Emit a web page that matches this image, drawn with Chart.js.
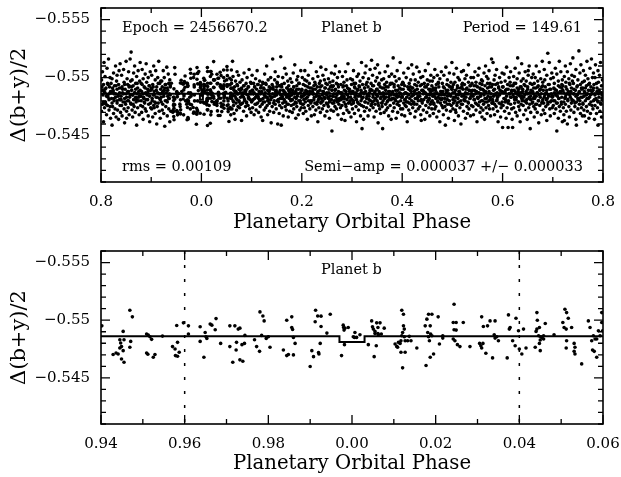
<!DOCTYPE html>
<html>
<head>
<meta charset="utf-8">
<script src="https://cdn.jsdelivr.net/npm/chart.js"></script>
<style>
  body { margin: 0; background: #fff; }
  canvas { position: absolute; left: 0; }
  #topChart { top: 0; }
  #zoomChart { top: 240px; }
</style>
</head>
<body>
<canvas id="topChart" width="621" height="240"></canvas>
<canvas id="zoomChart" width="621" height="237"></canvas>
<script>
// fitted constant level (solid line) and the level inside the transit window
const meanLevel = -0.5486;
const transitLevel = -0.5481;
const transitPhase = [-0.003, 0.003];
// dotted lines of the zoom panel
const windowPhase = [0.96, 1.04];

// full light curve outside the zoomed window: phase x 1000
const topPhase = [
60,60,61,62,62,63,63,64,65,65,66,67,67,68,69,69,70,71,71,72,73,73,74,75,75,76,77,78,78,79,
80,80,81,81,82,83,84,84,84,85,86,87,88,88,89,90,90,90,91,92,93,94,94,95,96,97,97,98,99,99,
100,101,101,102,103,103,104,105,105,106,107,108,108,109,110,111,111,112,113,113,114,115,116,116,117,118,118,119,119,106,
120,121,122,122,123,124,125,125,126,126,127,128,129,129,130,131,132,132,132,133,134,135,135,136,137,137,138,138,139,123,
140,141,141,142,142,143,144,145,146,146,147,147,148,149,150,150,151,152,153,153,154,155,155,156,156,157,158,159,159,151,
160,160,161,162,162,163,163,164,165,165,166,167,167,168,169,169,170,171,171,172,173,173,174,175,175,176,177,178,178,179,
180,180,181,181,182,183,184,184,184,185,186,187,188,188,189,190,190,190,191,192,193,194,194,195,196,197,197,198,199,199,
200,201,201,202,203,203,204,205,205,206,207,208,208,209,210,211,211,212,213,213,214,215,216,216,217,218,218,219,219,206,
220,221,222,222,223,224,225,225,226,226,227,228,229,229,230,231,232,232,232,233,234,235,235,236,237,237,238,238,239,223,
240,241,241,242,242,243,244,245,246,246,247,247,248,249,250,250,251,252,253,253,254,255,255,256,256,257,258,259,259,251,
260,260,261,262,262,263,263,264,265,265,266,267,267,268,269,269,270,271,271,272,273,273,274,275,275,276,277,278,278,279,
280,280,281,281,282,283,284,284,284,285,286,287,288,288,289,290,290,290,291,292,293,294,294,295,296,297,297,298,299,299,
300,301,301,302,303,303,304,305,305,306,307,308,308,309,310,311,311,312,313,313,314,315,316,316,317,318,318,319,319,306,
320,321,322,322,323,324,325,325,326,326,327,328,329,329,330,331,332,332,332,333,334,335,335,336,337,337,338,338,339,323,
340,341,341,342,342,343,344,345,346,346,347,347,348,349,350,350,351,352,353,353,354,355,355,356,356,357,358,359,359,351,
360,360,361,362,362,363,363,364,365,365,366,367,367,368,369,369,370,371,371,372,373,373,374,375,375,376,377,378,378,379,
380,380,381,381,382,383,384,384,384,385,386,387,388,388,389,390,390,390,391,392,393,394,394,395,396,397,397,398,399,399,
400,401,401,402,403,403,404,405,405,406,407,408,408,409,410,411,411,412,413,413,414,415,416,416,417,418,418,419,419,406,
420,421,422,422,423,424,425,425,426,426,427,428,429,429,430,431,432,432,432,433,434,435,435,436,437,437,438,438,439,423,
440,441,441,442,442,443,444,445,446,446,447,447,448,449,450,450,451,452,453,453,454,455,455,456,456,457,458,459,459,451,
460,460,461,462,462,463,463,464,465,465,466,467,467,468,469,469,470,471,471,472,473,473,474,475,475,476,477,478,478,479,
480,480,481,481,482,483,484,484,484,485,486,487,488,488,489,490,490,490,491,492,493,494,494,495,496,497,497,498,499,499,
500,501,501,502,503,503,504,505,505,506,507,508,508,509,510,511,511,512,513,513,514,515,516,516,517,518,518,519,519,506,
520,521,522,522,523,524,525,525,526,526,527,528,529,529,530,531,532,532,532,533,534,535,535,536,537,537,538,538,539,523,
540,541,541,542,542,543,544,545,546,546,547,547,548,549,550,550,551,552,553,553,554,555,555,556,556,557,558,559,559,551,
560,560,561,562,562,563,563,564,565,565,566,567,567,568,569,569,570,571,571,572,573,573,574,575,575,576,577,578,578,579,
580,580,581,581,582,583,584,584,584,585,586,587,588,588,589,590,590,590,591,592,593,594,594,595,596,597,597,598,599,599,
600,601,601,602,603,603,604,605,605,606,607,608,608,609,610,611,611,612,613,613,614,615,616,616,617,618,618,619,619,606,
620,621,622,622,623,624,625,625,626,626,627,628,629,629,630,631,632,632,632,633,634,635,635,636,637,637,638,638,639,623,
640,641,641,642,642,643,644,645,646,646,647,647,648,649,650,650,651,652,653,653,654,655,655,656,656,657,658,659,659,651,
660,660,661,662,662,663,663,664,665,665,666,667,667,668,669,669,670,671,671,672,673,673,674,675,675,676,677,678,678,679,
680,680,681,681,682,683,684,684,684,685,686,687,688,688,689,690,690,690,691,692,693,694,694,695,696,697,697,698,699,699,
700,701,701,702,703,703,704,705,705,706,707,708,708,709,710,711,711,712,713,713,714,715,716,716,717,718,718,719,719,706,
720,721,722,722,723,724,725,725,726,726,727,728,729,729,730,731,732,732,732,733,734,735,735,736,737,737,738,738,739,723,
740,741,741,742,742,743,744,745,746,746,747,747,748,749,750,750,751,752,753,753,754,755,755,756,756,757,758,759,759,751,
760,760,761,762,762,763,763,764,765,765,766,767,767,768,769,769,770,771,771,772,773,773,774,775,775,776,777,778,778,779,
780,780,781,781,782,783,784,784,784,785,786,787,788,788,789,790,790,790,791,792,793,794,794,795,796,797,797,798,799,799,
800,801,801,802,803,803,804,805,805,806,807,808,808,809,810,811,811,812,813,813,814,815,816,816,817,818,818,819,819,806,
820,821,822,822,823,824,825,825,826,826,827,828,829,829,830,831,832,832,832,833,834,835,835,836,837,837,838,838,839,823,
840,841,841,842,842,843,844,845,846,846,847,847,848,849,850,850,851,852,853,853,854,855,855,856,856,857,858,859,859,851,
860,860,861,862,862,863,863,864,865,865,866,867,867,868,869,869,870,871,871,872,873,873,874,875,875,876,877,878,878,879,
880,880,881,881,882,883,884,884,884,885,886,887,888,888,889,890,890,890,891,892,893,894,894,895,896,897,897,898,899,899,
900,901,901,902,903,903,904,905,905,906,907,908,908,909,910,911,911,912,913,913,914,915,916,916,917,918,918,919,919,906,
920,921,922,922,923,924,925,925,926,926,927,928,929,929,930,931,932,932,932,933,934,935,935,936,937,937,938,938,939,923,
// dense core close to the fitted level
61,63,64,67,69,71,72,75,77,78, 80,82,85,86,88,90,93,94,96,99,
101,102,104,106,109,110,112,114,117,119, 120,123,125,127,128,131,133,135,136,138,
141,143,144,147,149,151,152,155,157,158, 160,162,165,166,168,170,173,174,176,179,
181,182,184,186,189,190,192,194,197,199, 200,203,205,207,208,211,213,215,216,218,
221,223,224,227,229,231,232,235,237,238, 240,242,245,246,248,250,253,254,256,259,
261,262,264,266,269,270,272,274,277,279, 280,283,285,287,288,291,293,295,296,298,
301,303,304,307,309,311,312,315,317,318, 320,322,325,326,328,330,333,334,336,339,
341,342,344,346,349,350,352,354,357,359, 360,363,365,367,368,371,373,375,376,378,
381,383,384,387,389,391,392,395,397,398, 400,402,405,406,408,410,413,414,416,419,
421,422,424,426,429,430,432,434,437,439, 440,443,445,447,448,451,453,455,456,458,
461,463,464,467,469,471,472,475,477,478, 480,482,485,486,488,490,493,494,496,499,
501,502,504,506,509,510,512,514,517,519, 520,523,525,527,528,531,533,535,536,538,
541,543,544,547,549,551,552,555,557,558, 560,562,565,566,568,570,573,574,576,579,
581,582,584,586,589,590,592,594,597,599, 600,603,605,607,608,611,613,615,616,618,
621,623,624,627,629,631,632,635,637,638, 640,642,645,646,648,650,653,654,656,659,
661,662,664,666,669,670,672,674,677,679, 680,683,685,687,688,691,693,695,696,698,
701,703,704,707,709,711,712,715,717,718, 720,722,725,726,728,730,733,734,736,739,
741,742,744,746,749,750,752,754,757,759, 760,763,765,767,768,771,773,775,776,778,
781,783,784,787,789,791,792,795,797,798, 800,802,805,806,808,810,813,814,816,819,
821,822,824,826,829,830,832,834,837,839, 840,843,845,847,848,851,853,855,856,858,
861,863,864,867,869,871,872,875,877,878, 880,882,885,886,888,890,893,894,896,899,
901,902,904,906,909,910,912,914,917,919, 920,923,925,927,928,931,933,935,936,938
];
// residual from meanLevel, in units of 0.0001
const topResid = [
4,-9,13,-28,1,6,-15,10,-3,17,-6,2,22,-11,8,-2,14,-19,5,-7,11,0,-16,7,-4,12,-10,3,-1,9,
-5,23,2,-12,8,-1,15,-7,3,-18,6,-3,11,0,-9,19,-4,7,-14,1,10,-6,4,-21,13,-2,5,-10,16,0,
7,-3,-16,12,0,5,-9,18,-1,-6,9,3,-13,14,-4,1,-20,8,-8,2,16,-2,6,-11,11,-5,0,20,-7,4,
-2,9,23,-10,4,-5,14,1,-17,7,-1,12,-8,3,-24,10,-3,6,18,-12,0,-6,8,15,-4,2,-14,5,25,-9,
3,-8,11,-30,0,-4,16,6,-12,2,-19,9,-2,13,-6,1,-10,26,5,-15,7,-1,17,-7,10,-3,-32,27,4,-9,
-6,12,2,-14,8,-3,19,0,-9,5,-22,11,-1,7,-17,14,3,-5,9,-11,1,20,-7,4,-2,15,-13,6,-4,10,
1,-10,16,5,-3,-18,9,-6,13,0,-25,7,-2,21,4,-12,11,-7,2,-15,18,-4,6,-9,14,-1,8,-20,3,12,
-4,9,-14,2,17,-8,5,-1,12,-20,7,-3,15,0,-11,22,3,-6,10,-16,1,-9,13,-2,6,-27,8,-5,19,-12,
6,-2,-13,11,0,-7,18,3,-10,8,-4,14,-19,1,9,-6,24,-1,-15,5,12,-9,2,-3,16,-11,7,-23,4,0,
-7,13,1,-16,6,-2,10,-12,4,19,-5,0,-21,8,-1,15,-8,3,-13,11,-4,7,21,-10,2,-6,14,-18,5,9,
32,-3,8,-11,2,15,-7,0,-17,6,11,-4,-24,3,13,-9,1,-14,7,18,-2,-6,9,-19,4,-1,12,-8,5,22,
-1,10,-15,4,-6,17,2,-10,7,-3,23,-19,0,11,-7,5,14,-12,1,-26,8,-4,16,-2,6,-13,3,20,-8,9,
5,-12,13,-2,8,-20,0,17,-6,3,-9,11,-1,24,-15,7,-4,2,-17,14,-7,9,1,-11,19,-3,6,-27,10,-5,
30,-8,3,-14,11,0,-5,15,-18,7,-2,-24,12,4,-10,1,19,-6,8,-13,2,-1,14,-21,6,-4,10,-9,-29,22,
-3,7,-16,12,1,-7,20,-1,9,-22,4,-11,15,-4,6,-14,2,25,-8,10,-2,-18,13,0,-6,17,3,-12,8,-25,
11,-5,30,-1,6,-13,2,16,-8,4,-19,9,-3,14,-10,0,7,-24,12,-6,3,19,-15,5,-2,10,-9,1,22,-17,
-9,4,15,-2,-31,8,-6,1,12,-15,5,-3,21,-11,0,9,-20,3,16,-7,2,-13,10,-1,-27,6,13,-4,18,-8,
2,-10,13,-4,8,-18,0,19,-7,5,-1,11,-14,3,24,-6,7,-22,1,14,-9,4,-3,17,-12,9,-2,-25,6,10,
-5,12,1,-17,7,-2,20,-8,4,-12,15,0,-23,9,-4,3,13,-10,6,-1,-19,11,2,-7,18,-14,5,23,-3,8,
8,-3,-15,14,0,5,-9,22,-1,-20,10,3,-6,16,-12,1,7,-26,12,-4,4,-11,19,-2,9,-16,0,-7,13,6,
-11,6,2,17,-5,-14,9,0,-21,13,-3,4,11,-8,20,-1,-16,7,3,-10,15,-6,1,24,-13,8,-2,-19,5,10,
4,-9,12,-2,18,-16,7,-5,1,11,27,-23,-1,14,-8,5,-12,9,-3,21,0,-18,6,-6,15,2,-10,10,-27,-4,
-6,13,-1,8,-17,3,23,-10,6,-3,16,-22,1,10,-7,-14,4,19,-2,7,-12,12,-5,0,26,-19,9,-8,2,14,
9,-4,-20,15,1,-8,6,-13,21,-1,3,-16,11,-5,17,0,-10,8,-25,13,-3,4,-7,19,-14,2,10,-2,-9,5,
-3,11,1,-14,18,-7,5,-19,8,0,-10,14,-2,24,-6,3,-16,10,-1,-22,7,-9,16,2,-4,12,-12,20,-8,4,
6,-11,14,-3,9,-18,1,22,-7,4,-24,12,-1,-15,7,17,-5,2,-13,10,-2,-20,13,5,-9,19,0,-6,-30,8,
-8,5,-27,13,2,-12,18,-4,9,-16,0,11,-21,6,-1,15,-9,3,24,-6,8,-14,1,-3,20,-10,12,-2,7,-18,
29,-6,10,-1,-17,4,15,-11,7,-3,21,-23,2,12,-8,29,-4,6,-14,17,0,-10,9,-19,3,13,-2,-7,22,5,
29,-7,12,-15,3,8,-2,-22,16,-9,5,0,19,-13,-31,7,-4,11,1,-18,14,-6,24,-1,9,-11,2,-26,6,-3,
-4,10,-13,3,18,-8,1,-19,7,14,-2,-11,5,22,-6,0,-16,12,-24,4,9,30,-9,2,16,-3,-14,8,-1,-20,
7,-2,-17,11,0,20,-9,4,-14,13,-5,2,-24,9,-1,16,-11,6,-7,25,1,-19,10,-4,3,-13,18,-6,8,-28,
-10,5,14,-3,8,-21,1,-12,17,-6,11,-1,23,-16,4,-35,7,9,-8,2,-27,13,-4,19,-13,0,6,-18,12,3,
2,-14,10,-5,17,-9,6,-22,0,13,-3,32,-17,8,-1,-11,21,4,-28,11,-6,15,-2,-19,7,3,-8,24,-12,1,
-7,12,-1,18,-15,4,-24,9,1,-10,15,-4,26,-19,6,-2,11,-13,0,20,-8,3,-26,14,-5,8,-16,5,-11,23,
-31,6,-9,16,0,-15,11,-3,22,-21,7,27,-6,1,13,-12,4,-37,9,-2,-18,17,-8,3,-25,12,-4,19,-10,5,
8,-5,-20,14,2,-11,19,-1,6,-16,24,-7,11,-28,0,15,-13,4,-3,21,-9,9,-22,1,17,-6,-30,10,-2,-14,
-3,13,-18,6,-8,22,0,-14,10,-25,4,17,-5,-2,12,-20,7,27,-10,3,-16,15,-1,-27,9,-7,20,1,-12,5,
5,-12,15,-3,9,-19,1,24,-8,-27,12,-1,-15,7,-5,18,2,-22,10,-9,3,-30,14,0,-6,11,-14,21,-2,8,
-9,4,27,-13,11,-2,17,-18,6,0,-7,13,-24,3,20,-11,8,-4,-16,14,1,-8,22,-20,5,-1,10,-26,16,-5,
2,-16,10,-6,19,-1,7,-21,13,-10,4,25,-4,9,-28,0,15,-13,6,-8,12,-2,-19,18,-7,3,-30,8,-11,21,
-36,9,-3,14,-12,1,20,-7,5,-18,11,-1,-24,16,3,-9,7,-15,27,0,-5,12,-20,6,-2,18,-11,2,-27,10,
6,-9,16,-2,-21,11,0,-13,22,3,-6,8,-17,13,-1,-26,5,15,-10,1,-4,19,-14,9,-7,24,2,-19,12,-3,
-5,13,-16,4,20,-8,1,-24,10,-2,7,-12,17,-20,3,26,-6,11,-1,-14,8,-28,15,0,-9,5,21,-4,-11,12,
3,-11,14,-6,9,-20,0,17,-3,-14,28,6,-8,11,-1,-23,7,19,-5,2,-17,13,-9,4,24,-12,1,-7,15,-2,
// dense core close to the fitted level
2,-5,7,-1,4,-8,0,6,-3,9, -4,1,-7,5,-2,8,-6,3,0,-9,
6,-3,0,-6,9,1,-8,4,-1,5, -1,7,-4,2,-9,3,5,-2,8,-5,
3,-6,8,0,-3,6,-1,-7,4,1, -8,4,-2,7,1,-5,9,-3,2,-1,
5,-1,-6,3,8,-4,0,-9,6,2, -3,9,1,-7,4,-2,6,0,-5,7,
0,-4,5,-8,2,7,-2,3,-6,8, 7,-2,3,-5,-9,1,4,-1,6,-7,
-6,2,8,-3,0,5,-8,6,-1,3, 1,-7,4,9,-2,-5,3,-4,7,0,
-2,6,-9,1,5,-3,8,-6,2,-1, 4,-1,-5,7,-8,2,0,5,-3,9,
-7,3,6,-2,1,-4,8,-9,4,0, 8,-5,0,3,-6,6,-2,1,-8,5,
-1,4,-8,6,2,-3,7,-5,0,3, 3,-9,5,-1,7,0,-4,8,-6,2,
-5,1,9,-3,-7,4,2,-1,6,-8, 6,-2,-6,0,3,-8,5,1,-4,7,
-3,8,2,-5,0,6,-9,4,-2,1, 0,-6,4,7,-3,2,-7,9,1,-4,
5,-8,-1,3,8,-5,1,-2,6,-6, -9,2,6,-4,0,7,-3,4,-7,1,
2,5,-3,-7,9,-1,3,-5,0,6, -4,0,7,-2,4,-9,6,-6,3,8,
7,-3,1,-8,5,2,-5,0,9,-2, -6,4,-1,6,-4,8,0,-7,3,-3,
1,-9,5,3,-5,-2,7,2,-6,4, -2,6,-7,0,8,-4,3,-1,5,-8,
4,-5,2,9,-1,-6,6,-3,0,7, -7,3,0,5,-3,1,-8,7,-4,2,
6,-1,-4,8,2,-7,4,-2,9,-5, -3,7,3,-6,0,5,-9,1,-2,6,
0,-4,8,2,-7,4,-1,6,-5,3, 9,-2,-5,1,4,-8,3,-3,7,0,
-5,5,1,-9,6,0,-3,8,-1,4, 3,-6,7,-2,-4,9,1,-8,5,-1,
-1,8,-3,4,0,-7,6,2,-5,5, 5,-4,0,-8,7,3,-2,6,-6,1,
-6,1,9,-1,-4,5,-9,3,2,-3, 2,-8,4,7,-5,0,5,-2,-7,8,
-4,6,-6,1,8,-3,3,-9,4,0, 7,-1,2,-5,-8,6,-3,4,0,-6
];

// points of the zoomed window, phase 0.94 .. 1.06
const zoomPhase = [
0.9402,0.9429,0.9436,0.9441,0.9445,0.9447,0.9445,0.9449,0.9453,0.9449,
0.9455,0.9453,0.9455,0.9469,0.9475,0.9471,0.9469,0.9509,0.9513,0.9517,
0.9521,0.9509,0.9512,0.9525,0.9529,0.9547,0.9581,0.9597,0.9609,0.9609,
0.9583,0.9571,0.9577,0.9587,0.9578,0.9583,0.9637,0.9649,0.9651,0.9653,
0.9661,0.9665,0.9673,0.9675,0.9637,0.9646,0.9686,0.9708,0.9720,0.9728,
0.9732,0.9708,0.9724,0.9723,0.9732,0.9739,0.9715,0.9737,0.9744,0.9743,
0.9767,0.9772,0.9779,0.9780,0.9787,0.9790,0.9784,0.9795,0.9800,0.9804,
0.9836,0.9844,0.9848,0.9860,0.9844,0.9856,0.9856,0.9858,0.9860,0.9864,
0.9904,0.9908,0.9920,0.9921,0.9924,0.9913,0.9912,0.9918,0.9926,0.9926,
0.9940,0.9948,0.9900,0.9975,0.9979,0.9980,0.9981,0.9983,0.9982,0.9991,
1.0003,1.0006,1.0007,1.0011,1.0019,1.0039,1.0047,1.0049,1.0051,1.0055,
1.0059,1.0062,1.0067,1.0070,1.0077,1.0062,1.0055,1.0063,1.0058,1.0053,
1.0103,1.0107,1.0109,1.0111,1.0115,1.0117,1.0119,1.0123,1.0123,1.0125,
1.0121,1.0119,1.0125,1.0127,1.0133,1.0137,1.0141,1.0117,1.0127,1.0155,
1.0121,1.0177,1.0187,1.0175,1.0179,1.0183,1.0191,1.0187,1.0181,1.0185,
1.0191,1.0183,1.0188,1.0195,
1.0206,1.0209,1.0217,1.0217,1.0244,1.0242,1.0249,1.0244,1.0249,1.0242,
1.0246,1.0252,1.0258,1.0266,1.0282,1.0310,1.0314,1.0324,1.0305,1.0308,
1.0310,1.0313,1.0320,1.0336,1.0330,1.0342,1.0340,1.0342,1.0346,1.0350,
1.0371,1.0374,1.0378,1.0376,1.0384,1.0390,1.0392,1.0398,1.0400,1.0410,
1.0416,1.0406,1.0438,1.0442,1.0443,1.0442,1.0448,1.0440,1.0446,1.0451,
1.0450,1.0454,1.0458,1.0462,1.0458,1.0448,1.0450,1.0483,1.0504,1.0509,
1.0513,1.0517,1.0507,1.0512,1.0525,1.0513,1.0512,1.0531,1.0533,1.0531,
1.0533,1.0549,1.0565,1.0569,1.0577,1.0573,1.0575,1.0579,1.0581,1.0585,
1.0589,1.0593,1.0597,1.0597,1.0599,1.0585
];
const zoomFlux = [
-0.54951,-0.54702,-0.54716,-0.54707,-0.54759,-0.54802,-0.54831,-0.54771,-0.54736,-0.54664,
-0.54636,-0.54903,-0.54831,-0.55086,-0.55029,-0.54816,-0.54765,-0.54880,-0.54871,-0.54857,
-0.54834,-0.54716,-0.54705,-0.54679,-0.54702,-0.54862,-0.54954,-0.54977,-0.54951,-0.54880,
-0.54808,-0.54771,-0.54750,-0.54722,-0.54693,-0.54687,-0.54943,-0.54894,-0.54857,-0.54842,
-0.54966,-0.54957,-0.54917,-0.55014,-0.54816,-0.54679,-0.54799,-0.54951,-0.54951,-0.54923,
-0.54931,-0.54771,-0.54808,-0.54742,-0.54656,-0.54644,-0.54636,-0.54788,-0.54868,-0.54799,
-0.54831,-0.54771,-0.54730,-0.55072,-0.55037,-0.54994,-0.54868,-0.54842,-0.54857,-0.54765,
-0.54742,-0.54693,-0.54702,-0.54699,-0.55000,-0.55029,-0.54937,-0.54920,-0.54851,-0.54799,
-0.54736,-0.54684,-0.54719,-0.54707,-0.54799,-0.55086,-0.54986,-0.55037,-0.55035,-0.54946,
-0.54888,-0.55052,-0.54598,-0.54693,-0.54957,-0.54937,-0.54914,-0.54931,-0.54788,-0.54937,
-0.54857,-0.54851,-0.54894,-0.54851,-0.54874,-0.54788,-0.54994,-0.54943,-0.54923,-0.54903,
-0.54977,-0.54937,-0.54977,-0.54880,-0.54931,-0.54885,-0.54885,-0.54874,-0.54779,-0.54684,
-0.54794,-0.54773,-0.54765,-0.54808,-0.54799,-0.54822,-0.55086,-0.55052,-0.54951,-0.54923,
-0.54894,-0.54865,-0.54857,-0.54822,-0.54822,-0.54860,-0.54822,-0.54722,-0.54722,-0.54759,
-0.54587,-0.54607,-0.54679,-0.54951,-0.55009,-0.55052,-0.55052,-0.54951,-0.54894,-0.54822,
-0.54865,-0.54857,-0.54880,-0.54707,
-0.55029,-0.54793,-0.54865,-0.54845,-0.55138,-0.54980,-0.54980,-0.54917,-0.54914,-0.54837,
-0.54822,-0.54788,-0.54771,-0.54980,-0.54771,-0.55029,-0.54946,-0.54951,-0.54799,-0.54779,
-0.54759,-0.54799,-0.54713,-0.54673,-0.54994,-0.54994,-0.54874,-0.54845,-0.54857,-0.54822,
-0.54673,-0.55046,-0.54937,-0.54923,-0.54822,-0.54779,-0.55017,-0.54908,-0.54750,-0.54923,
-0.54759,-0.54707,-0.54765,-0.55066,-0.55000,-0.54923,-0.54937,-0.54903,-0.54865,-0.54857,
-0.54828,-0.54851,-0.54865,-0.54971,-0.54837,-0.54799,-0.54736,-0.54874,-0.54980,-0.55095,
-0.55066,-0.55017,-0.54937,-0.54923,-0.54937,-0.54822,-0.54759,-0.54799,-0.54765,-0.54730,
-0.54707,-0.54621,-0.54994,-0.54937,-0.54865,-0.54822,-0.54742,-0.54730,-0.54837,-0.54837,
-0.54908,-0.54865,-0.55066,-0.54980,-0.54908,-0.54679
];

const FONT = 'DejaVu Serif';
Chart.defaults.font.family = FONT;
Chart.defaults.color = '#000';

// full panel: phases above 0.8 are wrapped to the left
const topPoints = topPhase.map((p, i) => {
  const ph = p / 1000;
  return { x: ph > 0.8 ? ph - 1 : ph, y: meanLevel + topResid[i] / 10000 };
});
zoomPhase.forEach((p, i) => topPoints.push({ x: p - 1, y: zoomFlux[i] }));
const zoomPoints = zoomPhase.map((p, i) => ({ x: p, y: zoomFlux[i] }));

function modelLine(xMin, xMax, shift) {
  return [
    { x: xMin, y: meanLevel },
    { x: transitPhase[0] + shift, y: meanLevel },
    { x: transitPhase[0] + shift, y: transitLevel },
    { x: transitPhase[1] + shift, y: transitLevel },
    { x: transitPhase[1] + shift, y: meanLevel },
    { x: xMax, y: meanLevel }
  ];
}

// inward ticks on all four sides, the frame and the notes
const framePlugin = {
  id: 'frame',
  afterDatasetsDraw(chart, args, opts) {
    const { ctx, chartArea: a } = chart;
    const x = chart.scales.x, y = chart.scales.y;
    ctx.save();
    ctx.strokeStyle = '#000';
    ctx.lineWidth = 1.3;
    ctx.beginPath();
    x.ticks.forEach(t => {
      const px = x.getPixelForValue(t.value);
      const len = t.label ? 9 : 5;
      ctx.moveTo(px, a.bottom); ctx.lineTo(px, a.bottom - len);
      ctx.moveTo(px, a.top); ctx.lineTo(px, a.top + len);
    });
    y.ticks.forEach(t => {
      const py = y.getPixelForValue(t.value);
      const len = t.label ? 9 : 5;
      ctx.moveTo(a.left, py); ctx.lineTo(a.left + len, py);
      ctx.moveTo(a.right, py); ctx.lineTo(a.right - len, py);
    });
    ctx.stroke();
    ctx.lineWidth = 1.6;
    ctx.strokeRect(a.left, a.top, a.right - a.left, a.bottom - a.top);
    ctx.fillStyle = '#000';
    ctx.font = '14.5px "' + FONT + '"';
    (opts.notes || []).forEach(n => {
      ctx.textAlign = n.align;
      const tx = n.align === 'right' ? a.right + n.x : a.left + n.x;
      const ty = n.y >= 0 ? a.top + n.y : a.bottom + n.y;
      ctx.fillText(n.text, tx, ty);
    });
    ctx.restore();
  }
};

function yLabel(v) {
  const r = Math.round(v * 1000);
  if (r % 5 !== 0) return '';
  return String(r / 1000).replace('-', '\u2212');
}

function makeOptions(o) {
  return {
    responsive: false,
    animation: false,
    devicePixelRatio: 1,
    events: [],
    layout: { padding: { left: 0, right: 18, top: o.padTop, bottom: 0 } },
    plugins: {
      legend: { display: false },
      tooltip: { enabled: false },
      frame: { notes: o.notes }
    },
    scales: {
      x: {
        type: 'linear', min: o.xMin, max: o.xMax,
        afterFit: s => { s.height = o.xHeight; s.paddingLeft = 0; s.paddingRight = 0; },
        grid: { display: false, drawTicks: false },
        border: { display: false },
        ticks: { stepSize: o.xStep, autoSkip: false, maxRotation: 0, padding: 11,
                 font: { size: 15 }, callback: o.xLabel },
        title: { display: true, text: 'Planetary Orbital Phase', font: { size: 19.7 },
                 padding: { top: 0, bottom: o.titlePad } }
      },
      y: {
        type: 'linear', min: -0.556, max: -0.541, reverse: true,
        afterFit: s => { s.width = 101; s.paddingTop = 0; s.paddingBottom = 0; },
        grid: { display: false, drawTicks: false },
        border: { display: false },
        ticks: { stepSize: 0.001, autoSkip: false, padding: 11, font: { size: 15 }, callback: yLabel },
        title: { display: true, text: '\u0394(b+y)/2', font: { size: 21 }, padding: { top: 7 } }
      }
    }
  };
}

const dotStyle = { pointRadius: 1.8, pointBackgroundColor: '#000', pointBorderWidth: 0, showLine: false };
const lineStyle = { showLine: true, pointRadius: 0, borderColor: '#000', borderWidth: 2 };

new Chart(document.getElementById('topChart'), {
  type: 'scatter',
  data: {
    datasets: [
      Object.assign({ data: topPoints }, dotStyle),
      Object.assign({ data: modelLine(-0.2, 0.8, 0) }, lineStyle)
    ]
  },
  options: makeOptions({
    padTop: 8, xMin: -0.2, xMax: 0.8, xStep: 0.1, xHeight: 58, titlePad: 5,
    xLabel: v => {
      const r = Math.round(v * 10);
      if (r % 2 !== 0) return '';
      return ((((r % 10) + 10) % 10) / 10).toFixed(1);
    },
    notes: [
      { text: 'Epoch = 2456670.2', x: 21, y: 24, align: 'left' },
      { text: 'Planet b', x: 220, y: 24, align: 'left' },
      { text: 'Period = 149.61', x: -21, y: 24, align: 'right' },
      { text: 'rms = 0.00109', x: 21, y: -11, align: 'left' },
      { text: 'Semi\u2212amp = 0.000037 +/\u2212 0.000033', x: -20, y: -11, align: 'right' }
    ]
  }),
  plugins: [framePlugin]
});

new Chart(document.getElementById('zoomChart'), {
  type: 'scatter',
  data: {
    datasets: [
      Object.assign({ data: zoomPoints }, dotStyle),
      Object.assign({ data: modelLine(0.94, 1.06, 1) }, lineStyle),
      Object.assign({}, lineStyle, { data: [{ x: windowPhase[0], y: -0.556 }, { x: windowPhase[0], y: -0.541 }], borderWidth: 1.5, borderDash: [3, 11] }),
      Object.assign({}, lineStyle, { data: [{ x: windowPhase[1], y: -0.556 }, { x: windowPhase[1], y: -0.541 }], borderWidth: 1.5, borderDash: [3, 11] })
    ]
  },
  options: makeOptions({
    padTop: 11, xMin: 0.94, xMax: 1.06, xStep: 0.01, xHeight: 53, titlePad: 1,
    xLabel: v => {
      const r = Math.round(v * 100);
      if (r % 2 !== 0) return '';
      return ((r % 100) / 100).toFixed(2);
    },
    notes: [
      { text: 'Planet b', x: 220, y: 23, align: 'left' }
    ]
  }),
  plugins: [framePlugin]
});
</script>
</body>
</html>
